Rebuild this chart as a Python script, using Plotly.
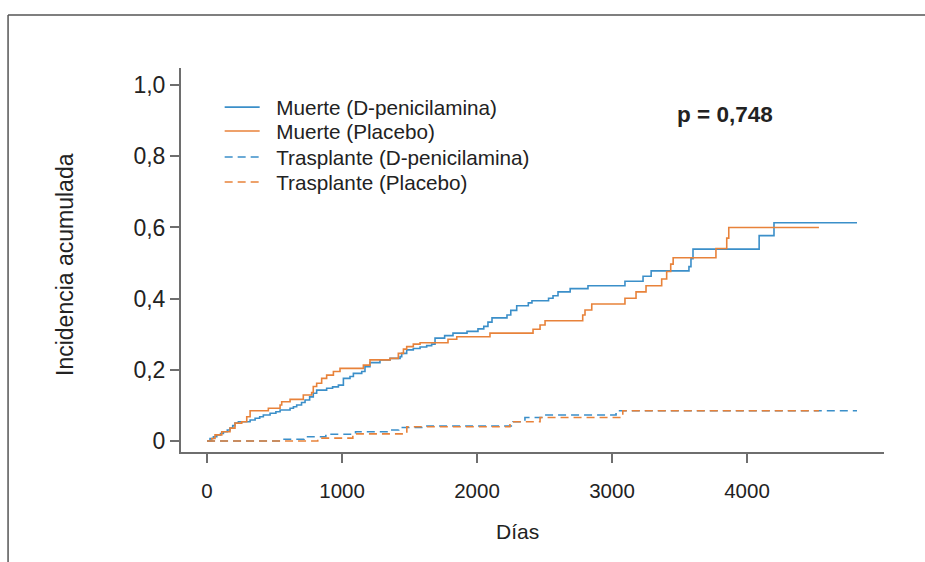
import plotly.graph_objects as go

# ---- Data ----
death_dpen_days = [0, 22, 47, 72, 100, 121, 150, 170, 190, 207, 232, 319, 356, 390, 417, 467, 510, 541,
                   615, 640, 664, 700, 726, 760, 787, 812, 886, 930, 973, 1010, 1059, 1084, 1146, 1170,
                   1207, 1281, 1356, 1430, 1442, 1479, 1528, 1578, 1627, 1664, 1689, 1760, 1822, 1926,
                   2007, 2050, 2081, 2111, 2222, 2250, 2294, 2380, 2407, 2530, 2563, 2600, 2690, 2822,
                   3096, 3230, 3290, 3570, 3585, 3600, 4090, 4200, 4815]
death_dpen_inc = [0, 0.007, 0.012, 0.017, 0.021, 0.026, 0.031, 0.036, 0.043, 0.050, 0.054, 0.059, 0.064,
                  0.068, 0.073, 0.078, 0.082, 0.087, 0.092, 0.096, 0.101, 0.108, 0.115, 0.124, 0.134,
                  0.143, 0.148, 0.152, 0.157, 0.176, 0.181, 0.190, 0.195, 0.209, 0.220, 0.228, 0.232,
                  0.237, 0.246, 0.256, 0.260, 0.264, 0.268, 0.272, 0.289, 0.296, 0.303, 0.308, 0.315,
                  0.322, 0.334, 0.346, 0.354, 0.367, 0.380, 0.388, 0.394, 0.401, 0.408, 0.419, 0.428,
                  0.436, 0.449, 0.463, 0.478, 0.490, 0.512, 0.539, 0.577, 0.613, 0.613]

death_plac_days = [0, 35, 59, 109, 170, 207, 257, 294, 319, 454, 541, 553, 615, 713, 775, 787, 812, 849,
                   886, 936, 985, 1158, 1207, 1356, 1417, 1455, 1479, 1528, 1578, 1785, 1850, 2096, 2415,
                   2467, 2504, 2783, 2800, 2850, 3096, 3178, 3252, 3368, 3405, 3435, 3453, 3770, 3850,
                   3865, 4533]
death_plac_inc = [0, 0.007, 0.017, 0.026, 0.036, 0.050, 0.054, 0.068, 0.085, 0.092, 0.101, 0.110, 0.117,
                  0.129, 0.136, 0.153, 0.162, 0.176, 0.185, 0.195, 0.204, 0.213, 0.228, 0.232, 0.246,
                  0.258, 0.265, 0.272, 0.276, 0.286, 0.293, 0.303, 0.314, 0.326, 0.338, 0.354, 0.368,
                  0.385, 0.401, 0.419, 0.436, 0.455, 0.476, 0.497, 0.515, 0.541, 0.570, 0.600, 0.600]

tx_dpen_days = [0, 560, 720, 880, 1100, 1350, 1420, 1600, 2267, 2355, 2504, 3030, 4815]
tx_dpen_inc = [0, 0.005, 0.012, 0.019, 0.026, 0.031, 0.038, 0.042, 0.054, 0.066, 0.073, 0.085, 0.085]

tx_plac_days = [0, 820, 1080, 1480, 2244, 2467, 3080, 4533]
tx_plac_inc = [0, 0.008, 0.020, 0.040, 0.054, 0.066, 0.085, 0.085]

series_names = ["Muerte (D-penicilamina)", "Muerte (Placebo)",
                "Trasplante (D-penicilamina)", "Trasplante (Placebo)"]

x_tickvals = [0, 1000, 2000, 3000, 4000]
x_ticktext = ["0", "1000", "2000", "3000", "4000"]
y_tickvals = [0, 0.2, 0.4, 0.6, 0.8, 1.0]
y_ticktext = ["0", "0,2", "0,4", "0,6", "0,8", "1,0"]

p_text = "p = 0,748"
x_title = "Días"
y_title = "Incidencia acumulada"

# ---- Styling ----
BLUE = "#3b8fc9"
ORANGE = "#e8823a"
AXIS = "#6e6e6e"
TEXT = "#222222"
FONT = "Liberation Sans, Arial, sans-serif"
PAD = "\u00a0\u00a0"
legend_rows_y = [0.898, 0.836, 0.768, 0.703]   # paper y of each legend row
legend_ids = ["legend", "legend2", "legend3", "legend4"]

fig = go.Figure()
traces = [
    (death_dpen_days, death_dpen_inc, BLUE, "solid"),
    (death_plac_days, death_plac_inc, ORANGE, "solid"),
    (tx_dpen_days, tx_dpen_inc, BLUE, "8px,5px"),
    (tx_plac_days, tx_plac_inc, ORANGE, "8px,5px"),
]
for (xs, ys, col, dash), name, lid in zip(traces, series_names, legend_ids):
    fig.add_trace(go.Scatter(x=xs, y=ys, mode="lines", name=PAD + name, legend=lid,
                             line=dict(color=col, width=1.6, dash=dash, shape="hv")))

legend_style = dict(x=0.055, xanchor="left", yanchor="middle", bgcolor="rgba(0,0,0,0)",
                    font=dict(size=20.7, color=TEXT), itemwidth=35, tracegroupgap=0)
legend_layout = {lid: dict(y=ly, **legend_style) for lid, ly in zip(legend_ids, legend_rows_y)}

fig.update_layout(
    width=925, height=562,
    margin=dict(l=181, r=41, t=68, b=110),
    paper_bgcolor="white", plot_bgcolor="white",
    font=dict(family=FONT, size=20, color=TEXT),
    showlegend=True,
    **legend_layout,
    xaxis=dict(range=[-193, 5015], tickvals=x_tickvals, ticktext=x_ticktext,
               showgrid=False, zeroline=False, showline=True, linecolor=AXIS, linewidth=2,
               ticks="outside", ticklen=9, tickwidth=2, tickcolor=AXIS,
               ticklabelstandoff=10,
               tickfont=dict(size=20.5, color=TEXT)),
    yaxis=dict(range=[-0.031, 1.048], tickvals=y_tickvals, ticktext=y_ticktext,
               showgrid=False, zeroline=False, showline=True, linecolor=AXIS, linewidth=2,
               ticks="outside", ticklen=9, tickwidth=2, tickcolor=AXIS,
               tickfont=dict(size=23, color=TEXT)),
    annotations=[
        dict(text="<b>" + p_text + "</b>", x=0.774, y=0.878, xref="paper", yref="paper",
             xanchor="center", yanchor="middle", showarrow=False,
             font=dict(size=22.5, color=TEXT)),
        dict(text=x_title, x=0.479, y=-0.206, xref="paper", yref="paper",
             xanchor="center", yanchor="middle", showarrow=False,
             font=dict(size=21, color=TEXT)),
        dict(text=y_title, x=-0.165, y=0.487, xref="paper", yref="paper", textangle=-90,
             xanchor="center", yanchor="middle", showarrow=False,
             font=dict(size=23, color=TEXT)),
    ],
    shapes=[
        dict(type="line", xref="paper", yref="paper", x0=-0.246, x1=1.2, y0=1.138, y1=1.138,
             line=dict(color="#555555", width=1.5)),
        dict(type="line", xref="paper", yref="paper", x0=-0.246, x1=-0.246, y0=1.138, y1=-0.4,
             line=dict(color="#555555", width=1.5)),
    ],
)

fig.write_html("out.html", config={"displayModeBar": False},
               post_script="document.body.style.margin='0';document.body.style.overflow='hidden';")
